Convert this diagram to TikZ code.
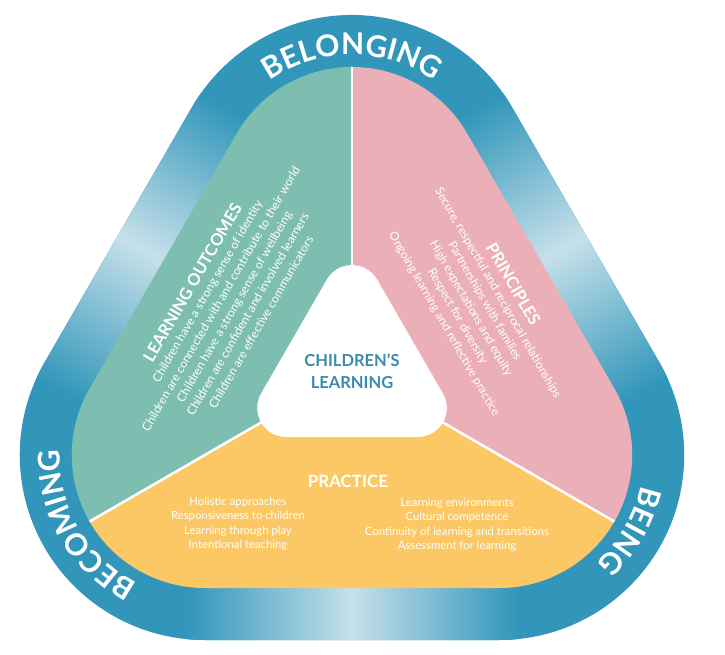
\documentclass[tikz,border=0pt]{standalone}
\usepackage{fontspec}
\setmainfont{Lato}
\usetikzlibrary{calc,decorations.text}

\definecolor{bandblue}{HTML}{3196BA}
\definecolor{bandlight}{HTML}{C6E0EA}
\definecolor{outcomegreen}{HTML}{7DBEB0}
\definecolor{principlepink}{HTML}{EBAFB7}
\definecolor{practiceyellow}{HTML}{FCC865}
\definecolor{learningblue}{HTML}{3A8CAE}

% rounded triangle: #1 distance of the corner centres, #2 corner radius
\newcommand{\roundtri}[2]{($(90:#1)+(30:#2)$) arc[start angle=30,end angle=150,radius=#2] -- ($(210:#1)+(150:#2)$) arc[start angle=150,end angle=270,radius=#2] -- ($(330:#1)+(270:#2)$) arc[start angle=270,end angle=390,radius=#2] -- cycle}

\tikzset{
  bandlabel/.style={decorate,decoration={text along path,text align=center,text color=white,
    text={|\fontsize{30}{30}\selectfont\bfseries|#1}}},
  sectiontext/.style={text=white,align=center,inner sep=0,font=\fontsize{12}{15.5}\selectfont},
  practicetext/.style={text=white,align=center,inner sep=0,font=\fontsize{11.3}{14.5}\selectfont},
  sectiontitle/.style={text=white,inner sep=0,font=\fontsize{17}{17}\selectfont\bfseries},
  divider/.style={draw=white,line width=2.5pt},
}

\begin{document}
\begin{tikzpicture}[x=1pt,y=1pt]
	\useasboundingbox (-352,-284) rectangle (373,370);
	\fill[white] (-352,-284) rectangle (373,370);
	% blue band
	\fill[bandblue] \roundtri{170}{185};
	\begin{scope}
		\clip \roundtri{170}{185};
		\foreach \ang in {0,120,240}{
			\begin{scope}[transform canvas={rotate=\ang}]
				\shade[left color=bandblue,right color=bandblue,middle color=bandlight] (-165,-300) rectangle (165,-200);
			\end{scope}
		}
	\end{scope}
	% three parts
	\coordinate (centre) at (0,0);
	\coordinate (top) at (90:320);
	\coordinate (left) at (210:320);
	\coordinate (right) at (330:320);
	\begin{scope}
		\clip \roundtri{170}{133};
		\fill[outcomegreen] (centre) -- (top) -- (150:600) -- (left) -- cycle;
		\fill[principlepink] (centre) -- (top) -- (30:600) -- (right) -- cycle;
		\fill[practiceyellow] (centre) -- (left) -- (270:600) -- (right) -- cycle;
		\draw[divider] (centre) -- (top);
		\draw[divider] (centre) -- (left);
		\draw[divider] (centre) -- (right);
	\end{scope}
	\fill[white] \roundtri{76}{29};
	% labels round the band
	\path[bandlabel=BELONGING] ($(90:170)+(150:145)$) arc[start angle=150,end angle=30,radius=145];
	\path[bandlabel=BECOMING] ($(210:170)+(270:145)$) arc[start angle=270,end angle=150,radius=145];
	\path[bandlabel=BEING] ($(330:170)+(30:145)$) arc[start angle=30,end angle=-90,radius=145];
	% texts
	\node[text=learningblue,align=center,font=\fontsize{16.5}{22}\selectfont\bfseries] (learning) at (0,-1) {CHILDREN’S\\LEARNING};
	\node[sectiontext,rotate=60] (outcomes) at (-126,68) {{\fontsize{16.5}{19}\selectfont\bfseries LEARNING OUTCOMES}\\
		Children have a strong sense of identity\\
		Children are connected with and contribute to their world\\
		Children have a strong sense of wellbeing\\
		Children are confident and involved learners\\
		Children are effective communicators};
	\node[sectiontext,rotate=-60] (principles) at (127,66) {{\fontsize{16.5}{19}\selectfont\bfseries PRINCIPLES}\\
		Secure, respectful and reciprocal relationships\\
		Partnerships with families\\
		High expectations and equity\\
		Respect for diversity\\
		Ongoing learning and reflective practice};
	\node[sectiontitle] (practice) at (-4,-111) {PRACTICE};
	\node[practicetext] (practiceleft) at (-114,-154) {Holistic approaches\\
		Responsiveness to children\\
		Learning through play\\
		Intentional teaching};
	\node[practicetext] (practiceright) at (105,-155) {Learning environments\\
		Cultural competence\\
		Continuity of learning and transitions\\
		Assessment for learning};
\end{tikzpicture}
\end{document}
